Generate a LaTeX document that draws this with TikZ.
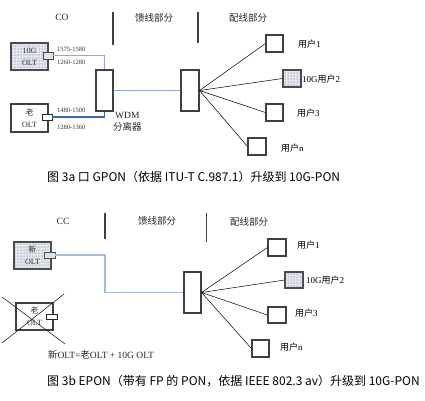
\documentclass[tikz,border=0pt]{standalone}
\usepackage{fontspec}
\setmainfont{Liberation Serif}
\newfontfamily\cjk{Noto Sans CJK SC}
\usetikzlibrary{patterns}
\newcommand\zh[1]{{\cjk #1}}
\definecolor{lineA}{HTML}{8EAAD8}
\definecolor{lineB}{HTML}{3A66B0}
\definecolor{dotbg}{HTML}{E2E7F0}
\definecolor{portbg}{HTML}{DCE4F0}
\begin{document}
\begin{tikzpicture}[x=1pt,y=-1pt,
  box/.style={draw=black!75, line width=1.1pt, inner sep=0pt, fill=white},
  dotbox/.style={draw=black!70, line width=1.1pt, inner sep=0pt, preaction={fill=dotbg}, pattern=dots, pattern color=black!65},
  port/.style={draw=black!70, line width=0.8pt, inner sep=0pt, fill=portbg},
  wport/.style={draw=black!85, line width=0.8pt, inner sep=0pt, fill=white},
  sep/.style={draw=black!75, line width=1.1pt},
  fan/.style={draw=black, line width=0.5pt},
  fib/.style={line width=1.2pt},
  lbl/.style={font=\fontsize{9}{10}\selectfont, inner sep=0pt},
  hdr/.style={font=\fontsize{9.5}{10}\selectfont, inner sep=0pt, text=black!85},
  freq/.style={font=\fontsize{6.5}{7}\selectfont, inner sep=0pt, anchor=west, text=black!80},
  olt/.style={font=\fontsize{8}{12}\selectfont, align=center, text=black!80},
  capt/.style={font=\cjk\fontsize{12}{13}\selectfont, inner sep=0pt, anchor=west}
]
\useasboundingbox (0,0) rectangle (425,400);
% ---------- top figure ----------
\node[hdr] (tco) at (62,17) {CO};
\node[hdr] (tfeed) at (154,18) {\zh{馈线部分}};
\node[hdr] (tdist) at (248,18) {\zh{配线部分}};
\coordinate (ts1a) at (113,12); \coordinate (ts1b) at (113,45);
\coordinate (ts2a) at (198,12); \coordinate (ts2b) at (198,43);
\draw[sep] (ts1a) -- (ts1b);
\draw[sep] (ts2a) -- (ts2b);

\node[dotbox, minimum width=37pt, minimum height=27pt] (a10g) at (29.5,56.5) {};
\node[olt] at (a10g) {10G\\OLT};
\node[port, minimum width=10pt, minimum height=7pt] (a10gp) at (48,55.5) {};
\node[box, minimum width=37pt, minimum height=28pt] (aold) at (29.5,118) {};
\node[olt] at (aold) {\zh{老}\\OLT};
\node[wport, minimum width=10pt, minimum height=6pt] (aoldp) at (47,117) {};

\node[box, minimum width=17pt, minimum height=41pt] (awdm) at (104.5,90.5) {};
\node[box, minimum width=18pt, minimum height=41pt] (aspl) at (190,90.5) {};

\node[freq] (f1) at (57,49) {1575-1580};
\node[freq] (f2) at (57,62) {1260-1280};
\node[freq] (f3) at (57,110) {1480-1500};
\node[freq] (f4) at (57,127) {1280-1360};
\node[hdr, anchor=west] (wdm1) at (115,115) {WDM};
\node[hdr, anchor=west] (wdm2) at (113,127) {\zh{分离器}};

\draw[fib, lineA] (a10gp.east) -| (awdm.north);
\draw[fib, lineB] (aoldp.east) -| (awdm.south);
\draw[fib, lineA] (awdm.east) -- (aspl.west);

\node[box, minimum width=17pt, minimum height=17pt] (au1) at (274.5,43.5) {};
\node[dotbox, minimum width=18pt, minimum height=17pt] (au2) at (292,78.5) {};
\node[box, minimum width=17pt, minimum height=17pt] (au3) at (274.5,112.5) {};
\node[box, minimum width=18pt, minimum height=17pt] (aun) at (257,146.5) {};
\node[lbl, anchor=west] (lu1) at (298,44) {\zh{用户}1};
\node[lbl, anchor=west] (lu2) at (302,79) {10G\zh{用户}2};
\node[lbl, anchor=west] (lu3) at (297,113) {\zh{用户}3};
\node[lbl, anchor=west] (lun) at (281,148) {\zh{用户}n};
\draw[fan] (aspl.east) -- (au1.west);
\draw[fan] (aspl.east) -- (au2.west);
\draw[fan] (aspl.east) -- (au3.west);
\draw[fan] (aspl.east) -- (aun.west);

\node[capt] (cap1) at (47,177) {图 3a 口 GPON（依据 ITU-T C.987.1）升级到 10G-PON};

% ---------- bottom figure ----------
\node[hdr] (bcc) at (63,221) {CC};
\node[hdr] (bfeed) at (157,221) {\zh{馈线部分}};
\node[hdr] (bdist) at (249,222) {\zh{配线部分}};
\coordinate (bs1a) at (105,213); \coordinate (bs1b) at (105,239);
\coordinate (bs2a) at (206.5,213); \coordinate (bs2b) at (206.5,242);
\draw[sep] (bs1a) -- (bs1b);
\draw[sep] (bs2a) -- (bs2b);

\node[dotbox, minimum width=37pt, minimum height=27pt] (bnew) at (32.5,255.5) {};
\node[olt] at (bnew) {\zh{新}\\OLT};
\node[port, minimum width=11pt, minimum height=6pt] (bnewp) at (49.5,255) {};
\node[box, minimum width=37pt, minimum height=27pt] (bold) at (34.5,316.5) {};
\node[olt] at (bold) {\zh{老}\\OLT};
\node[wport, minimum width=11pt, minimum height=5pt] (boldp) at (51.5,316.5) {};
\coordinate (bx1) at (2,297); \coordinate (bx2) at (65,344);
\coordinate (bx3) at (64,294); \coordinate (bx4) at (2,343);
\draw[line width=0.6pt, black!85] (bx1) -- (bx2);
\draw[line width=0.6pt, black!85] (bx3) -- (bx4);

\node[box, minimum width=17pt, minimum height=41pt] (bspl) at (192.5,292.5) {};
\coordinate (bturn) at (105,292.5);
\draw[fib, lineA!80] (bnewp.east) -| (bturn) -- (bspl.west);

\node[box, minimum width=18pt, minimum height=17pt] (bu1) at (277,247.5) {};
\node[dotbox, minimum width=18pt, minimum height=16pt] (bu2) at (294,280) {};
\node[box, minimum width=18pt, minimum height=16pt] (bu3) at (277,315) {};
\node[box, minimum width=17pt, minimum height=17pt] (bun) at (260.5,348.5) {};
\node[lbl, anchor=west] (mu1) at (297,245) {\zh{用户}1};
\node[lbl, anchor=west] (mu2) at (306,280) {10G\zh{用户}2};
\node[lbl, anchor=west] (mu3) at (295,313) {\zh{用户}3};
\node[lbl, anchor=west] (mun) at (280,347) {\zh{用户}n};
\draw[fan] (bspl.east) -- (bu1.west);
\draw[fan] (bspl.east) -- (bu2.west);
\draw[fan] (bspl.east) -- (bu3.west);
\draw[fan] (bspl.east) -- (bun.west);

\node[hdr] (beq) at (101,355) {\zh{新}OLT=\zh{老}OLT + 10G OLT};

\node[capt] (cap2) at (47,381) {图 3b EPON（带有 FP 的 PON，依据 IEEE 802.3 av）升级到 10G-PON};
\end{tikzpicture}
\end{document}
